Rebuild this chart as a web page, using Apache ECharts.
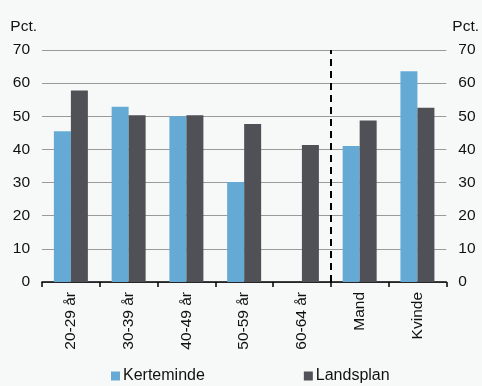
<!DOCTYPE html>
<html><head><meta charset="utf-8">
<script src="https://cdn.jsdelivr.net/npm/echarts@6/dist/echarts.min.js"></script>
<style>html,body{margin:0;padding:0;background:#f7f9f9}#c{width:482px;height:386px}</style>
</head><body><div id="c"></div>
<script>
var categories = ['20-29 år','30-39 år','40-49 år','50-59 år','60-64 år','Mand','Kvinde'];
var kerteminde = [45.5, 52.9, 50.0, 30.2, null, 41.0, 63.6];
var landsplan = [57.8, 50.3, 50.3, 47.7, 41.3, 48.7, 52.6];
var seriesNames = ['Kerteminde','Landsplan'];
var separatorAt = 5;

var font = 'Liberation Sans, Arial, sans-serif';
var chart = echarts.init(document.getElementById('c'), null, {renderer:'canvas'});
var yCommon = {
  type:'value', min:0, max:70, interval:10,
  name:'Pct.', nameLocation:'end', nameGap:15,
  axisLine:{show:false}, axisTick:{show:false},
  axisLabel:{color:'#111', fontSize:15.5, fontFamily:font, margin:12}
};
chart.setOption({
  backgroundColor:'#f7f9f9',
  animation:false,
  textStyle:{fontFamily:font},
  grid:{left:42, right:35, top:50, bottom:104},
  legend:{
    data:seriesNames, top:363, left:106, itemGap:99, itemWidth:9, itemHeight:9,
    icon:'rect', textStyle:{fontSize:16, color:'#111', fontFamily:font, padding:[0,0,0,-2]}
  },
  xAxis:[{
    type:'category', data:categories,
    axisLine:{lineStyle:{color:'#000', width:1.5}},
    axisTick:{show:true, length:5, lineStyle:{color:'#000', width:1.5}},
    axisLabel:{rotate:90, color:'#111', fontSize:15.5, fontFamily:font, margin:10}
  },{
    type:'value', min:0, max:categories.length, show:false
  }],
  yAxis:[
    Object.assign({}, yCommon, {
      position:'left',
      nameTextStyle:{color:'#111', fontSize:15.5, fontFamily:font, align:'right', padding:[0,5,0,0]},
      splitLine:{show:true, lineStyle:{color:'#9a9a9a', width:1}}
    }),
    Object.assign({}, yCommon, {
      position:'right',
      nameTextStyle:{color:'#111', fontSize:15.5, fontFamily:font, align:'left', padding:[0,0,0,6]},
      splitLine:{show:false}
    })
  ],
  series:[
    {name:seriesNames[0], type:'bar', data:kerteminde, barWidth:17, barGap:'0%',
     itemStyle:{color:'#64aad5'}},
    {name:seriesNames[1], type:'bar', data:landsplan, barWidth:17, barGap:'0%',
     itemStyle:{color:'#505156'}},
    {type:'line', xAxisIndex:1, yAxisIndex:0, data:[], silent:true,
     markLine:{silent:true, symbol:['none','none'], label:{show:false},
       lineStyle:{color:'#000', type:[7,5], width:2},
       data:[{xAxis:separatorAt}]}}
  ]
});
</script></body></html>
